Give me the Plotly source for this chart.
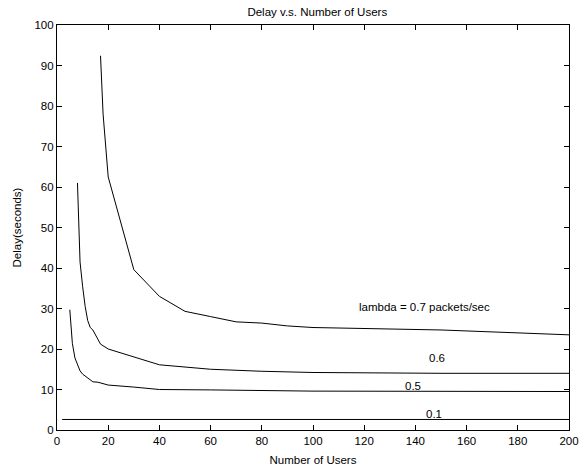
import plotly.graph_objects as go

# Data
x_07 = [17, 18, 20, 30, 40, 50, 60, 70, 80, 90, 100, 150, 200]
y_07 = [92.4, 78, 62.5, 39.6, 33, 29.3, 28.0, 26.7, 26.4, 25.7, 25.3, 24.7, 23.5]

x_06 = [8, 9, 10, 11, 12, 13, 14, 15, 17, 20, 30, 40, 60, 80, 100, 150, 200]
y_06 = [61, 41.5, 35.5, 30.5, 27, 25.3, 24.7, 23.5, 21.2, 20.0, 18.1, 16.1, 15.0, 14.5, 14.2, 14.0, 14.0]

x_05 = [5, 6, 7, 8, 9, 10, 12, 14, 16, 20, 30, 40, 60, 100, 200]
y_05 = [29.7, 21.4, 17.8, 16.0, 14.6, 13.8, 12.8, 11.9, 11.8, 11.1, 10.6, 10.0, 9.9, 9.6, 9.5]

x_01 = [2, 200]
y_01 = [2.6, 2.6]

label_text = ["lambda = 0.7 packets/sec", "0.6", "0.5", "0.1"]
label_x = [143.7, 148.3, 139.2, 147.4]
label_y = [30.4, 17.9, 10.8, 3.9]

font = dict(family="Liberation Sans, Arial, Helvetica, sans-serif", size=11.5, color="black")

fig = go.Figure()
for xs, ys in [(x_07, y_07), (x_06, y_06), (x_05, y_05), (x_01, y_01)]:
    fig.add_trace(go.Scatter(x=xs, y=ys, mode="lines",
                             line=dict(color="black", width=1), showlegend=False,
                             hoverinfo="skip"))

for t, lx, ly in zip(label_text, label_x, label_y):
    fig.add_annotation(x=lx, y=ly, text=t, showarrow=False, font=font,
                       xref="x", yref="y")

axis_common = dict(showgrid=False, zeroline=False, showline=True, linecolor="black",
                   linewidth=1.2, mirror="ticks", ticks="inside", ticklen=5,
                   tickcolor="black", tickwidth=1, tickfont=font, automargin=False)

fig.update_layout(
    width=579, height=473,
    margin=dict(l=57, r=10, t=25, b=43),
    paper_bgcolor="white", plot_bgcolor="white",
    title=dict(text="Delay v.s. Number of Users", x=0.548, xanchor="center",
               y=0.974, yanchor="middle", font=font),
    xaxis=dict(range=[0, 200], tickvals=list(range(0, 201, 20)),
               title=dict(text="Number of Users", font=font, standoff=10), **axis_common),
    yaxis=dict(range=[0, 100], tickvals=list(range(0, 101, 10)),
               title=dict(text="Delay(seconds)", font=font, standoff=10), **axis_common),
)

fig.write_html("out.html", config={"displayModeBar": False},
               post_script="document.body.style.margin='0';document.body.style.overflow='hidden';")
